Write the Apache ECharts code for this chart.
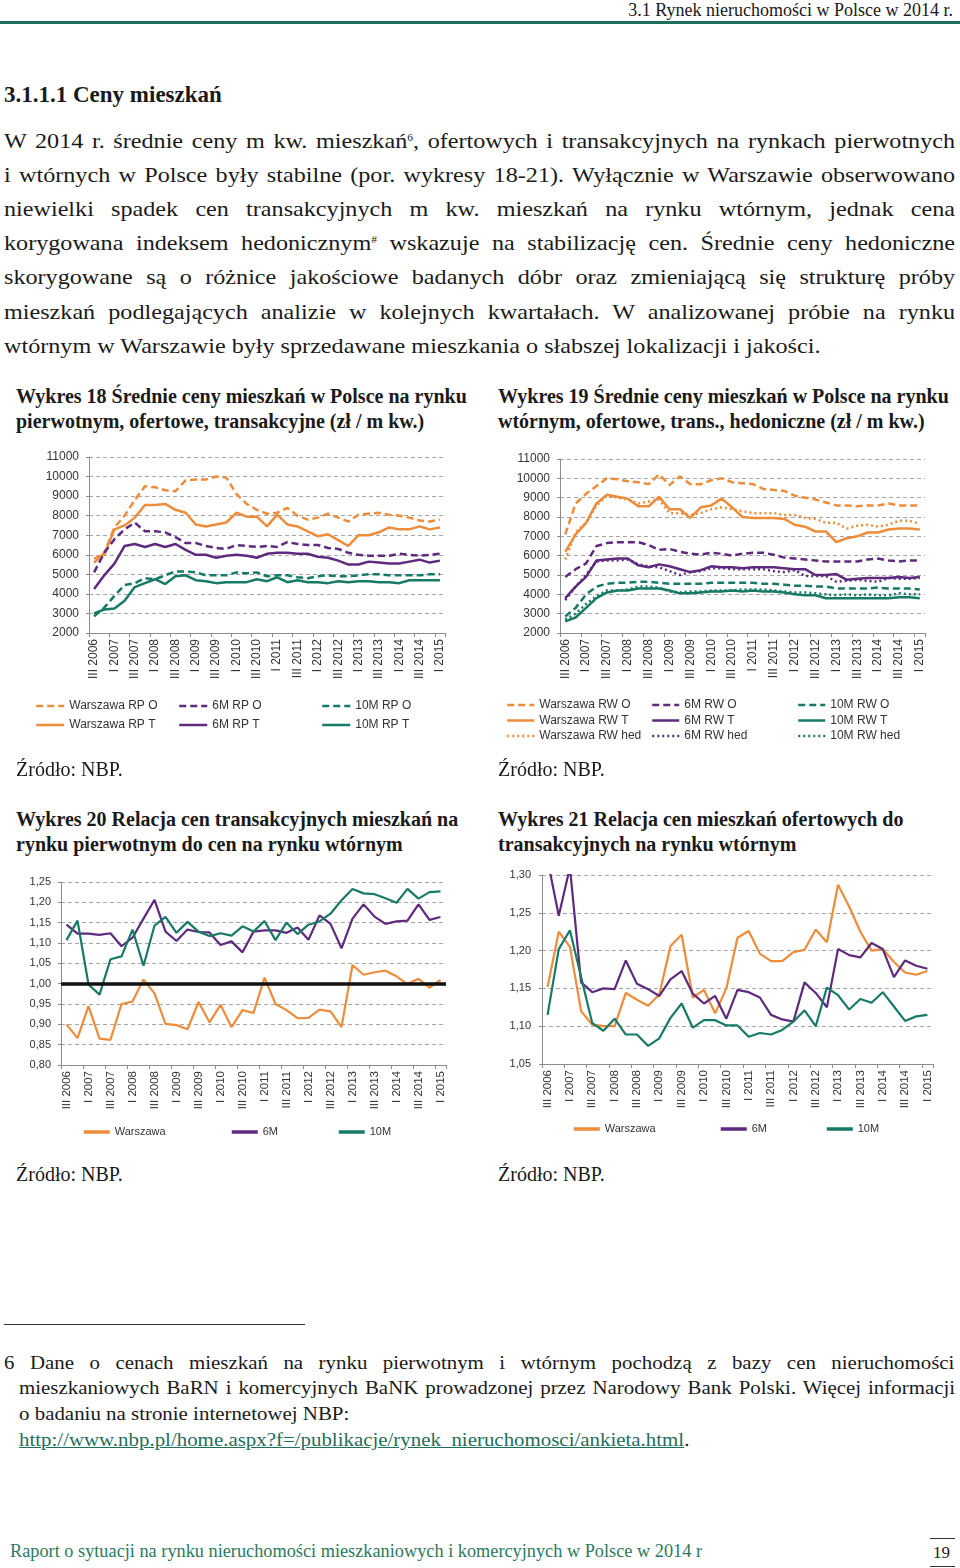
<!DOCTYPE html>
<html lang="pl">
<head>
<meta charset="utf-8">
<script src="https://cdn.jsdelivr.net/npm/echarts@6/dist/echarts.min.js"></script>
<style>
  html, body { margin:0; padding:0; background:#fff; }
  body { width:960px; height:1568px; position:relative; overflow:hidden; font-family:"Liberation Serif","DejaVu Serif",serif; color:#1a1a1a; }
  .abs { position:absolute; }
  .line { position:absolute; left:4px; width:827px; font-size:21px; line-height:24px; height:24px; white-space:nowrap; transform:scaleX(1.15); transform-origin:0 0; }
  .just { text-align:justify; text-align-last:justify; white-space:normal; }
  .ttl { position:absolute; font-weight:bold; font-size:20px; line-height:25px; white-space:nowrap; }
  .src { position:absolute; font-size:20px; line-height:22px; }
  .fn { position:absolute; font-size:19px; line-height:22px; white-space:nowrap; transform:scaleX(1.1); transform-origin:0 0; }
  sup { font-size:10px; vertical-align:7px; line-height:0; }
  .chart { position:absolute; }
</style>
</head>
<body>
<div class="abs" style="right:7px;top:-1px;font-size:18px;line-height:22px;">3.1 Rynek nieruchomości w Polsce w 2014 r.</div>
<div class="abs" style="left:0;top:21px;width:960px;height:3px;background:#1f6e5c;"></div>

<div class="abs" style="left:4px;top:81px;font-size:23px;font-weight:bold;line-height:28px;">3.1.1.1 Ceny mieszkań</div>

<div class="line just" style="top:129px;">W 2014 r. średnie ceny m kw. mieszkań<sup>6</sup>, ofertowych i transakcyjnych na rynkach pierwotnych</div>
<div class="line just" style="top:163px;">i wtórnych w Polsce były stabilne (por. wykresy 18-21). Wyłącznie w Warszawie obserwowano</div>
<div class="line just" style="top:197px;">niewielki spadek cen transakcyjnych m kw. mieszkań na rynku wtórnym, jednak cena</div>
<div class="line just" style="top:231px;">korygowana indeksem hedonicznym<sup>#</sup> wskazuje na stabilizację cen. Średnie ceny hedoniczne</div>
<div class="line just" style="top:265px;">skorygowane są o różnice jakościowe badanych dóbr oraz zmieniającą się strukturę próby</div>
<div class="line just" style="top:300px;">mieszkań podlegających analizie w kolejnych kwartałach. W analizowanej próbie na rynku</div>
<div class="line" style="top:334px;">wtórnym w Warszawie były sprzedawane mieszkania o słabszej lokalizacji i jakości.</div>

<div class="ttl" style="left:16px;top:384px;">Wykres 18 Średnie ceny mieszkań w Polsce na rynku<br>pierwotnym, ofertowe, transakcyjne (zł / m kw.)</div>
<div class="ttl" style="left:498px;top:384px;">Wykres 19 Średnie ceny mieszkań w Polsce na rynku<br>wtórnym, ofertowe, trans., hedoniczne (zł / m kw.)</div>

<div id="c18" class="chart" style="left:0;top:440px;width:480px;height:320px;"></div>
<div id="c19" class="chart" style="left:480px;top:440px;width:480px;height:320px;"></div>

<div class="src" style="left:16px;top:758px;">Źródło: NBP.</div>
<div class="src" style="left:498px;top:758px;">Źródło: NBP.</div>

<div class="ttl" style="left:16px;top:807px;">Wykres 20 Relacja cen transakcyjnych mieszkań na<br>rynku pierwotnym do cen na rynku wtórnym</div>
<div class="ttl" style="left:498px;top:807px;">Wykres 21 Relacja cen mieszkań ofertowych do<br>transakcyjnych na rynku wtórnym</div>

<div id="c20" class="chart" style="left:0;top:860px;width:480px;height:300px;"></div>
<div id="c21" class="chart" style="left:480px;top:860px;width:480px;height:300px;"></div>

<div class="src" style="left:16px;top:1163px;">Źródło: NBP.</div>
<div class="src" style="left:498px;top:1163px;">Źródło: NBP.</div>

<div class="abs" style="left:4px;top:1324px;width:301px;height:1px;background:#333;"></div>
<div class="fn just" style="left:4px;top:1352px;width:864px;">6 Dane o cenach mieszkań na rynku pierwotnym i wtórnym pochodzą z bazy cen nieruchomości</div>
<div class="fn just" style="left:19px;top:1377px;width:851px;">mieszkaniowych BaRN i komercyjnych BaNK prowadzonej przez Narodowy Bank Polski. Więcej informacji</div>
<div class="fn" style="left:19px;top:1403px;">o badaniu na stronie internetowej NBP:</div>
<div class="fn" style="left:19px;top:1429px;"><span style="color:#1f6e5c;text-decoration:underline;">http://www.nbp.pl/home.aspx?f=/publikacje/rynek_nieruchomosci/ankieta.html</span>.</div>

<div class="abs" style="left:10px;top:1540px;font-size:18.3px;line-height:22px;color:#2b7a60;">Raport o sytuacji na rynku nieruchomości mieszkaniowych i komercyjnych w Polsce w 2014 r</div>
<div class="abs" style="left:930px;top:1538px;width:25px;height:1px;background:#333;"></div>
<div class="abs" style="left:933px;top:1542px;font-size:17px;line-height:22px;">19</div>
<div class="abs" style="left:930px;top:1566px;width:25px;height:1px;background:#333;"></div>

<script>
// ---------- DATA ----------
const quarters = ["III 2006","IV 2006","I 2007","II 2007","III 2007","IV 2007","I 2008","II 2008","III 2008","IV 2008",
  "I 2009","II 2009","III 2009","IV 2009","I 2010","II 2010","III 2010","IV 2010","I 2011","II 2011","III 2011","IV 2011",
  "I 2012","II 2012","III 2012","IV 2012","I 2013","II 2013","III 2013","IV 2013","I 2014","II 2014","III 2014","IV 2014","I 2015"];

// Wykres 18 – rynek pierwotny (zł / m kw.)
const warszawaRPO = [5600,6100,7400,8000,8800,9500,9450,9300,9250,9800,9850,9850,10000,9950,9100,8600,8300,8100,8150,8400,8000,7800,7900,8100,7900,7700,8050,8100,8150,8050,8000,7900,7750,7700,7800];
const warszawaRPT = [5800,6000,7300,7500,7900,8550,8550,8600,8300,8150,7550,7450,7550,7650,8150,7950,7950,7450,8050,7550,7450,7200,6950,7050,6750,6450,7000,7000,7150,7400,7300,7300,7450,7300,7400];
const m6RPO = [5100,6100,6800,7300,7650,7200,7200,7150,6900,6600,6600,6450,6350,6300,6500,6450,6400,6450,6400,6650,6550,6500,6500,6350,6300,6100,6000,5950,5950,5950,6050,6000,5950,6000,6050];
const m6RPT = [4250,4950,5550,6450,6550,6400,6550,6400,6550,6250,6000,6000,5850,5950,6000,5950,5850,6050,6100,6100,6050,6050,5900,5850,5700,5500,5500,5650,5600,5550,5550,5650,5750,5600,5700];
const m10RPO = [2850,3300,3900,4450,4550,4800,4750,4950,5150,5150,5100,4950,4950,4950,5100,5050,5100,4900,4950,4950,4850,4800,4900,4950,4900,4900,4950,5000,5000,4950,4950,4950,4950,5000,5000];
const m10RPT = [3000,3200,3250,3650,4350,4550,4750,4500,4900,4950,4700,4650,4550,4600,4600,4600,4750,4650,4850,4600,4700,4600,4600,4550,4650,4600,4650,4650,4600,4600,4550,4700,4700,4700,4700];

// Wykres 19 – rynek wtórny (zł / m kw.)
const warszawaRWO = [7100,8700,9200,9600,10000,9950,9850,9800,9700,10200,9650,10100,9700,9700,9900,10000,9800,9750,9700,9450,9400,9350,9100,9000,8900,8750,8600,8600,8550,8600,8600,8700,8600,8600,8600];
const warszawaRWT = [6200,7100,7700,8700,9150,9050,8950,8550,8550,9050,8400,8400,7950,8500,8600,8950,8500,8000,7950,7950,7950,7900,7600,7500,7250,7250,6700,6900,7000,7200,7200,7350,7400,7400,7350];
const warszawaRWhed = [5800,7200,7700,8600,9100,9000,8900,8700,8800,8900,8200,8200,8100,8200,8400,8500,8400,8300,8200,8200,8200,8100,8100,7950,7900,7700,7700,7400,7550,7600,7500,7600,7800,7800,7650];
const m6RWO = [4900,5300,5600,6500,6650,6700,6700,6700,6550,6300,6350,6200,6100,6050,6150,6100,6000,6100,6150,6150,6050,5900,5850,5800,5750,5700,5700,5700,5700,5800,5850,5750,5700,5750,5750];
const m6RWT = [3800,4400,4900,5750,5800,5850,5850,5500,5400,5550,5450,5300,5150,5250,5450,5400,5400,5350,5400,5400,5400,5350,5300,5300,5000,5000,5050,4750,4800,4850,4850,4850,4900,4850,4900];
const m6RWhed = [3700,4400,5000,5700,5750,5750,5800,5550,5450,5400,5200,5000,5150,5200,5350,5350,5300,5300,5300,5300,5200,5150,5250,4950,4950,4950,4650,4700,4750,4700,4650,4850,4800,4800,4850];
const m10RWO = [2850,3300,4000,4400,4550,4600,4600,4650,4650,4600,4550,4550,4550,4550,4600,4600,4600,4600,4600,4550,4550,4500,4450,4450,4400,4400,4300,4300,4300,4300,4350,4300,4300,4300,4250];
const m10RWT = [2600,2800,3300,3800,4100,4200,4200,4300,4300,4300,4200,4050,4050,4100,4150,4150,4200,4150,4200,4150,4150,4100,4000,3950,3950,3800,3800,3800,3800,3800,3800,3800,3850,3850,3800];
const m10RWhed = [2700,3000,3500,3900,4200,4200,4250,4400,4400,4350,4150,4100,4150,4150,4200,4200,4200,4250,4250,4250,4200,4150,4100,4100,4050,4000,3950,4000,3950,4000,3950,3950,4050,4000,4000];

// Wykres 20 – relacja RP T / RW T
const rel20Warszawa = [0.900,0.866,0.945,0.865,0.862,0.950,0.956,1.010,0.976,0.901,0.898,0.888,0.955,0.905,0.948,0.893,0.935,0.928,1.015,0.950,0.935,0.915,0.916,0.936,0.932,0.893,1.046,1.022,1.028,1.032,1.018,0.999,1.012,0.990,1.009];
const rel20M6 = [1.145,1.123,1.123,1.120,1.124,1.092,1.113,1.160,1.206,1.128,1.105,1.133,1.127,1.126,1.095,1.104,1.077,1.128,1.131,1.131,1.125,1.138,1.108,1.168,1.147,1.087,1.160,1.195,1.165,1.147,1.153,1.155,1.195,1.157,1.164];
const rel20M10 = [1.107,1.155,0.998,0.973,1.060,1.067,1.133,1.044,1.143,1.164,1.125,1.152,1.128,1.117,1.124,1.118,1.141,1.128,1.154,1.107,1.150,1.122,1.145,1.153,1.172,1.205,1.233,1.222,1.220,1.210,1.199,1.233,1.209,1.225,1.227];
const parityLevel = 1.0;

// Wykres 21 – relacja RW O / RW T
const rel21Warszawa = [1.152,1.225,1.205,1.120,1.102,1.100,1.100,1.144,1.135,1.127,1.142,1.206,1.221,1.138,1.148,1.117,1.150,1.217,1.226,1.196,1.186,1.186,1.198,1.201,1.228,1.211,1.287,1.258,1.225,1.200,1.202,1.185,1.171,1.168,1.173];
const rel21M6 = [1.320,1.246,1.310,1.158,1.145,1.150,1.149,1.187,1.156,1.149,1.140,1.162,1.173,1.143,1.130,1.140,1.110,1.148,1.145,1.138,1.115,1.109,1.106,1.158,1.144,1.125,1.202,1.194,1.191,1.210,1.202,1.165,1.187,1.180,1.176];
const rel21M10 = [1.115,1.202,1.227,1.165,1.104,1.094,1.110,1.089,1.089,1.074,1.084,1.111,1.130,1.098,1.108,1.108,1.101,1.101,1.086,1.091,1.089,1.095,1.106,1.121,1.100,1.151,1.141,1.122,1.136,1.131,1.145,1.126,1.107,1.113,1.115];

// ---------- STYLE ----------
const ORANGE = '#EE8C3A', PURPLE = '#5E2A7E', GREEN = '#177A66';
const SANS = '"Liberation Sans", Arial, sans-serif';
const DASH = [7, 4], DOT = [2, 3];

function xAxisCfg(fs) {
  return {
    type: 'category', data: quarters, boundaryGap: true,
    axisLine: { lineStyle: { color: '#8c8c8c', width: 1 } },
    axisTick: { show: true, interval: 1, length: 4, lineStyle: { color: '#8c8c8c' } },
    axisLabel: { interval: 1, rotate: 90, fontSize: fs, color: '#333', margin: 6, fontFamily: SANS }
  };
}
function yAxisCfg(min, max, interval, fs, fmt, margin) {
  return {
    type: 'value', min: min, max: max, interval: interval,
    axisLine: { show: true, lineStyle: { color: '#8c8c8c', width: 1 } },
    axisTick: { show: true, length: 3, lineStyle: { color: '#8c8c8c' } },
    splitLine: { show: true, lineStyle: { color: '#a6a6a6', type: [4, 3], width: 1 } },
    axisLabel: { fontSize: fs, color: '#333', margin: margin, fontFamily: SANS, formatter: fmt }
  };
}
function ser(name, data, color, type, width) {
  return { type: 'line', name: name, data: data, symbol: 'none', showSymbol: false, clip: true,
    lineStyle: { color: color, width: width, type: type }, itemStyle: { color: color }, emphasis: { disabled: true } };
}
function leg(left, top, names, opts) {
  return Object.assign({ left: left, top: top, orient: 'vertical', data: names, selectedMode: false, padding: 0,
    itemWidth: 28, itemHeight: 14, itemGap: 5, itemStyle: { opacity: 0 }, lineStyle: { width: 2.5 },
    textStyle: { fontSize: 12, color: '#333', fontFamily: SANS, lineHeight: 14 } }, opts || {});
}
const plainFmt = v => String(v);
const commaFmt = v => v.toFixed(2).replace('.', ',');

// ---------- Wykres 18 ----------
echarts.init(document.getElementById('c18'), null, { renderer: 'canvas' }).setOption({
  animation: false,
  grid: { left: 89, top: 17, width: 356, height: 176 },
  xAxis: xAxisCfg(12),
  yAxis: yAxisCfg(2000, 11000, 1000, 12, plainFmt, 10),
  legend: [
    leg(35, 259, ['Warszawa RP O', 'Warszawa RP T']),
    leg(178, 259, ['6M RP O', '6M RP T']),
    leg(321, 259, ['10M RP O', '10M RP T'])
  ],
  series: [
    ser('Warszawa RP O', warszawaRPO, ORANGE, DASH, 2.5),
    ser('Warszawa RP T', warszawaRPT, ORANGE, 'solid', 2.5),
    ser('6M RP O', m6RPO, PURPLE, DASH, 2.5),
    ser('6M RP T', m6RPT, PURPLE, 'solid', 2.5),
    ser('10M RP O', m10RPO, GREEN, DASH, 2.5),
    ser('10M RP T', m10RPT, GREEN, 'solid', 2.5)
  ]
});

// ---------- Wykres 19 ----------
const leg19 = { itemWidth: 27, itemHeight: 10, itemGap: 1.5 };
echarts.init(document.getElementById('c19'), null, { renderer: 'canvas' }).setOption({
  animation: false,
  grid: { left: 80, top: 19, width: 365, height: 174 },
  xAxis: xAxisCfg(12),
  yAxis: yAxisCfg(2000, 11000, 1000, 12, plainFmt, 10),
  legend: [
    leg(26, 258, ['Warszawa RW O', 'Warszawa RW T', 'Warszawa RW hed'], leg19),
    leg(171, 258, ['6M RW O', '6M RW T', '6M RW hed'], leg19),
    leg(317, 258, ['10M RW O', '10M RW T', '10M RW hed'], leg19)
  ],
  series: [
    ser('Warszawa RW O', warszawaRWO, ORANGE, DASH, 2.5),
    ser('Warszawa RW T', warszawaRWT, ORANGE, 'solid', 2.5),
    ser('Warszawa RW hed', warszawaRWhed, ORANGE, DOT, 2.5),
    ser('6M RW O', m6RWO, PURPLE, DASH, 2.5),
    ser('6M RW T', m6RWT, PURPLE, 'solid', 2.5),
    ser('6M RW hed', m6RWhed, PURPLE, DOT, 2.5),
    ser('10M RW O', m10RWO, GREEN, DASH, 2.5),
    ser('10M RW T', m10RWT, GREEN, 'solid', 2.5),
    ser('10M RW hed', m10RWhed, GREEN, DOT, 2.5)
  ]
});

// ---------- Wykres 20 ----------
const legSmall = { itemWidth: 26, itemHeight: 14, itemGap: 0, lineStyle: { width: 3.5 },
  textStyle: { fontSize: 11, color: '#333', fontFamily: '"Liberation Sans Narrow", ' + SANS, lineHeight: 14 } };
const s20 = [
  ser('Warszawa', rel20Warszawa, ORANGE, 'solid', 2.2),
  ser('6M', rel20M6, PURPLE, 'solid', 2.2),
  ser('10M', rel20M10, GREEN, 'solid', 2.2)
];
s20[0].markLine = { silent: true, symbol: 'none', label: { show: false },
  lineStyle: { color: '#111', width: 3.5, type: 'solid' }, data: [{ yAxis: parityLevel }] };
echarts.init(document.getElementById('c20'), null, { renderer: 'canvas' }).setOption({
  animation: false,
  grid: { left: 61, top: 22, width: 385, height: 183 },
  xAxis: xAxisCfg(11.5),
  yAxis: yAxisCfg(0.8, 1.25, 0.05, 11, commaFmt, 10),
  legend: [
    leg(82, 265, ['Warszawa'], legSmall),
    leg(230, 265, ['6M'], legSmall),
    leg(337, 265, ['10M'], legSmall)
  ],
  series: s20
});

// ---------- Wykres 21 ----------
echarts.init(document.getElementById('c21'), null, { renderer: 'canvas' }).setOption({
  animation: false,
  grid: { left: 62, top: 15, width: 391, height: 189 },
  xAxis: xAxisCfg(11.5),
  yAxis: yAxisCfg(1.05, 1.30, 0.05, 11, commaFmt, 11),
  legend: [
    leg(92, 262, ['Warszawa'], legSmall),
    leg(239, 262, ['6M'], legSmall),
    leg(345, 262, ['10M'], legSmall)
  ],
  series: [
    ser('Warszawa', rel21Warszawa, ORANGE, 'solid', 2.2),
    ser('6M', rel21M6, PURPLE, 'solid', 2.2),
    ser('10M', rel21M10, GREEN, 'solid', 2.2)
  ]
});
</script>
</body>
</html>
